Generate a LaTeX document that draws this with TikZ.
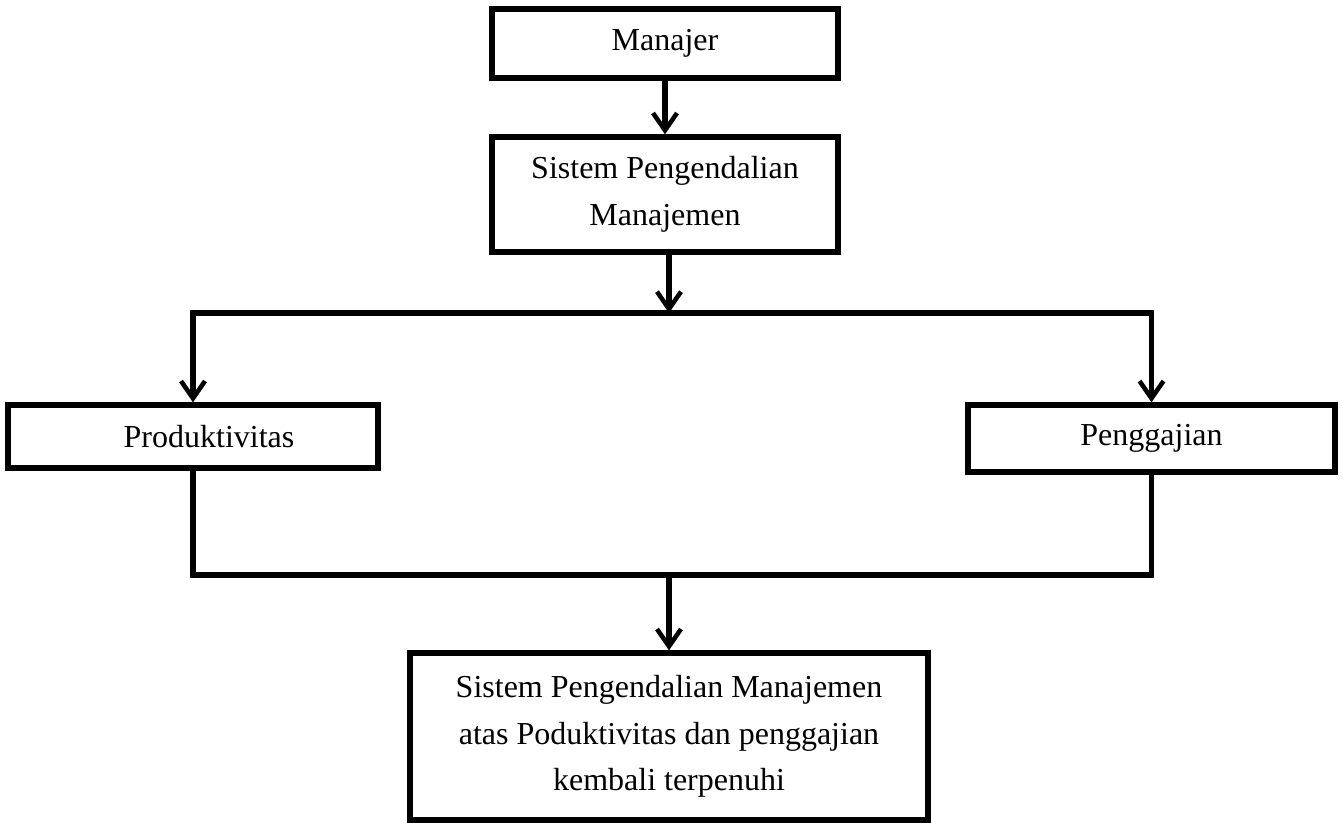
\documentclass[tikz,border=0pt]{standalone}
\usepackage{fontspec}
\setmainfont{Liberation Serif}
\usetikzlibrary{arrows.meta}
\begin{document}
\begin{tikzpicture}[x=0.75pt,y=-0.75pt,
  box/.style={draw=black, line width=4pt, rectangle, inner sep=0pt, align=center,
    font=\fontsize{24}{35}\selectfont, fill=white},
  conn/.style={draw=black, line width=4pt},
  arr/.style={conn, -{Straight Barb[length=13pt,width=18pt,line width=3.4pt]}}]
\useasboundingbox (0,0) rectangle (1343,822);
\node[box, minimum width=346*0.75pt, minimum height=69*0.75pt] (man) at (665,43.5) {Manajer};
\node[box, minimum width=346*0.75pt, minimum height=115*0.75pt] (spm) at (665,194.5) {Sistem Pengendalian\\Manajemen};
\node[box, minimum width=370*0.75pt, minimum height=63*0.75pt] (prod) at (193,436.5) {\hspace*{24pt}Produktivitas};
\node[box, minimum width=367*0.75pt, minimum height=67*0.75pt] (peng) at (1151.5,438.5) {Penggajian};
\node[box, minimum width=518*0.75pt, minimum height=167*0.75pt] (res) at (669,736.5) {Sistem Pengendalian Manajemen\\atas Poduktivitas dan penggajian\\kembali terpenuhi};
\coordinate (j1) at (669,313);
\coordinate (j2) at (669,575);
\draw[arr] (man.south) -- (spm.north);
\draw[arr] (spm.south -| j1) -- (j1);
\draw[arr] (j1) -| (prod.north);
\draw[arr] (j1) -| (peng.north);
\draw[conn] (prod.south) |- (j2) -| (peng.south);
\draw[arr] (j2) -- (res.north);
\end{tikzpicture}
\end{document}
